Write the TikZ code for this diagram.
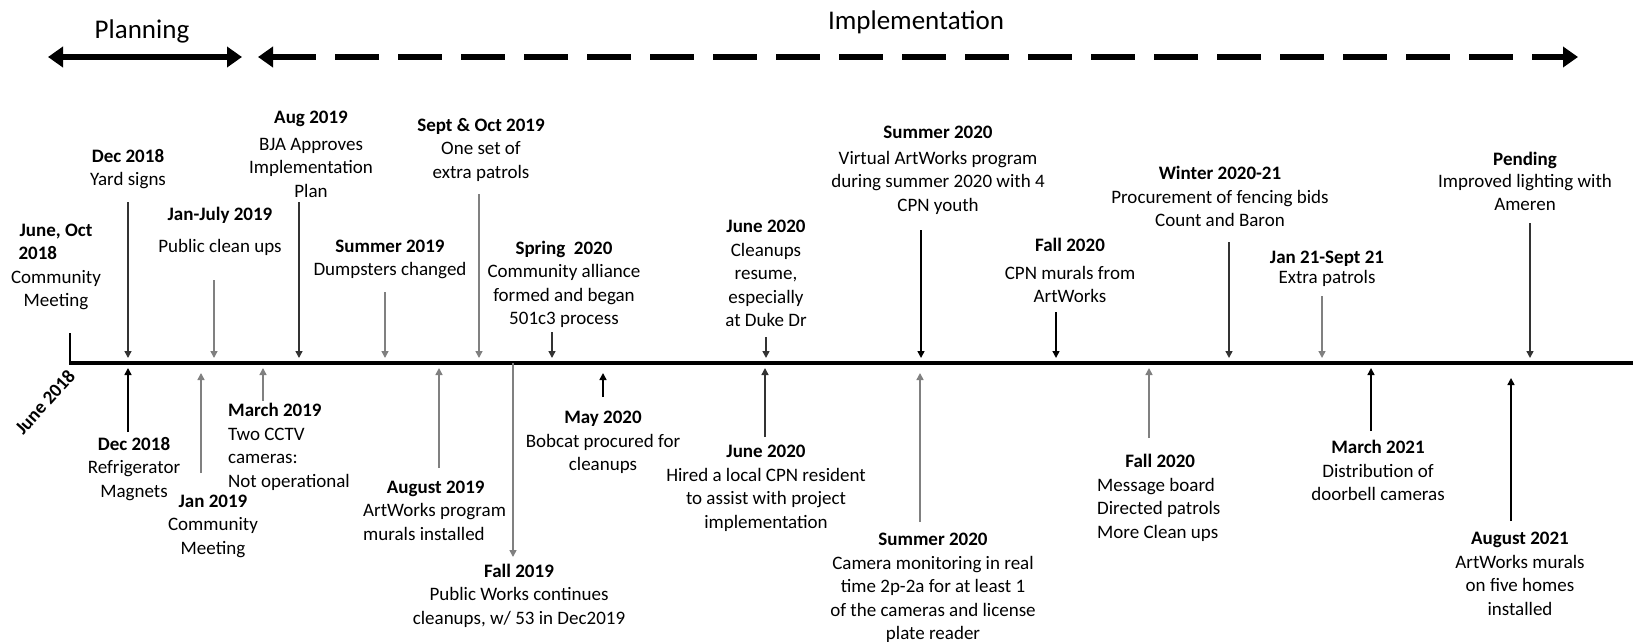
\documentclass[tikz,border=0pt]{standalone}
\usepackage{fontspec}
\setmainfont{Carlito}
\usetikzlibrary{arrows.meta}
\colorlet{darkarr}{black!80}
\colorlet{lightarr}{black!50}

\begin{document}
\begin{tikzpicture}[x=1pt, y=-1pt,
    ev/.style = {align=center, inner sep=0pt, font=\fontsize{19}{23.5}\selectfont},
    evl/.style = {ev, align=left, anchor=west},
    arr/.style = {-{Triangle[length=7pt,width=7pt]}, line width=1.5pt},
    phase/.style = {line width=6pt, {Triangle[length=15pt,width=20pt]}-{Triangle[length=15pt,width=20pt]}}]
    \useasboundingbox (0,0) rectangle (1633,642);

    % Fasi del progetto
    \node[font=\fontsize{27}{32}\selectfont] (plan) at (142,31) {Planning};
    \node[font=\fontsize{27}{32}\selectfont] (impl) at (916,22) {Implementation};
    \coordinate (p0) at (48,57);
    \coordinate (p1) at (242,57);
    \coordinate (i0) at (258,57);
    \coordinate (i1) at (1578,57);
    \draw[phase] (p0) -- (p1);
    \draw[phase, dash pattern=on 44pt off 19pt] (i0) -- (i1);

    % Linea del tempo
    \coordinate (t0) at (70,363);
    \coordinate (tend) at (1633,363);
    \coordinate (k) at (70,333);
    \coordinate (up) at (0,358);
    \coordinate (lo) at (0,368);
    \coordinate (lo2) at (0,373);
    \coordinate (lo3) at (0,378);
    \draw[line width=3.5pt] (t0) -- (tend);
    \draw[line width=1.5pt] (k) -- ([yshift=-2pt]t0);
    \node[ev, rotate=48] (start) at (45,402) {\textbf{June 2018}};

    % Eventi sopra la linea
    \node[ev] (t1) at (56,267) {\makebox[75pt][c]{\textbf{June, Oct}}\\ \makebox[75pt][l]{\textbf{2018}}\\ Community\\ Meeting};
    \node[ev] (t2) at (128,169) {\textbf{Dec 2018}\\ Yard signs};
    \node[ev] (t3) at (220,231.5) {\textbf{Jan-July 2019}\\[9pt] Public clean ups};
    \node[ev] (t4) at (311,154.5) {\textbf{Aug 2019}\\[3pt] BJA Approves\\ Implementation\\ Plan};
    \node[ev] (t5) at (390,259.5) {\textbf{Summer 2019}\\ Dumpsters changed};
    \node[ev] (t6) at (481,149.5) {\textbf{Sept \& Oct 2019}\\ One set of\\ extra patrols};
    \node[ev] (t7) at (564,284.5) {\textbf{Spring\ \ 2020}\\ Community alliance\\ formed and began\\ 501c3 process};
    \node[ev] (t8) at (766,273.5) {\textbf{June 2020}\\ Cleanups\\ resume,\\ especially\\ at Duke Dr};
    \node[ev] (t9) at (938,170.5) {\textbf{Summer 2020}\\[2pt] Virtual ArtWorks program\\ during summer 2020 with 4\\ CPN youth};
    \node[ev] (t10) at (1070,270.5) {\textbf{Fall 2020}\\[4pt] CPN murals from\\ ArtWorks};
    \node[ev] (t11) at (1220,196.5) {\textbf{Winter 2020-21}\\ Procurement of fencing bids\\ Count and Baron};
    \node[ev] (t12) at (1327,269) {\textbf{Jan 21-Sept 21}\\[-3.5pt] Extra patrols};
    \node[ev] (t13) at (1525,181.5) {\textbf{Pending}\\[-2pt] Improved lighting with\\ Ameren};

    % Eventi sotto la linea
    \node[ev] (b1) at (134,469) {\textbf{Dec 2018}\\ Refrigerator\\ Magnets};
    \node[ev] (b2) at (213,526) {\textbf{Jan 2019}\\ Community\\ Meeting};
    \node[evl] (b3) at (228,447) {\textbf{March 2019}\\ Two CCTV\\ cameras:\\ Not operational};
    \node[evl] (b4) at (363,510.5) {\makebox[145pt]{\textbf{August 2019}}\\ ArtWorks program\\ murals installed};
    \node[ev] (b5) at (519,595.5) {\textbf{Fall 2019}\\ Public Works continues\\ cleanups, w/ 53 in Dec2019};
    \node[ev] (b6) at (603,442.5) {\textbf{May 2020}\\ Bobcat procured for\\ cleanups};
    \node[ev] (b7) at (766,488.5) {\textbf{June 2020}\\ Hired a local CPN resident\\ to assist with project\\ implementation};
    \node[ev] (b8) at (933,588) {\textbf{Summer 2020}\\ Camera monitoring in real\\ time 2p-2a for at least 1\\ of the cameras and license\\ plate reader};
    \node[evl] (b9) at (1097,498) {\makebox[126pt]{\textbf{Fall 2020}}\\ Message board\\ Directed patrols\\ More Clean ups};
    \node[ev] (b10) at (1378,470.5) {\textbf{March 2021}\\ Distribution of\\ doorbell cameras};
    \node[ev] (b11) at (1520,574) {\textbf{August 2021}\\ ArtWorks murals\\ on five homes\\ installed};

    % Frecce in alto
    \coordinate (ta2) at (128,202);
    \coordinate (ta3) at (214,280);
    \coordinate (ta4) at (299,202);
    \coordinate (ta5) at (385,292);
    \coordinate (ta6) at (479,194);
    \coordinate (ta7) at (552,332);
    \coordinate (ta8) at (766,337);
    \coordinate (ta9) at (921,230);
    \coordinate (ta10) at (1056,312);
    \coordinate (ta11) at (1229,242);
    \coordinate (ta12) at (1322,296);
    \coordinate (ta13) at (1530,223);
    \draw[arr, darkarr] (ta2) -- (ta2 |- up);
    \draw[arr, lightarr] (ta3) -- (ta3 |- up);
    \draw[arr, darkarr] (ta4) -- (ta4 |- up);
    \draw[arr, lightarr] (ta5) -- (ta5 |- up);
    \draw[arr, lightarr] (ta6) -- (ta6 |- up);
    \draw[arr, darkarr] (ta7) -- (ta7 |- up);
    \draw[arr, darkarr] (ta8) -- (ta8 |- up);
    \draw[arr, black] (ta9) -- (ta9 |- up);
    \draw[arr, black] (ta10) -- (ta10 |- up);
    \draw[arr, darkarr] (ta11) -- (ta11 |- up);
    \draw[arr, lightarr] (ta12) -- (ta12 |- up);
    \draw[arr, darkarr] (ta13) -- (ta13 |- up);

    % Frecce in basso
    \coordinate (ba1) at (128,432);
    \coordinate (ba2) at (201,473);
    \coordinate (ba3) at (263,401);
    \coordinate (ba4) at (439,468);
    \coordinate (ba5) at (513,557);
    \coordinate (ba6) at (603,397);
    \coordinate (ba7) at (765,437);
    \coordinate (ba8) at (920,522);
    \coordinate (ba9) at (1149,438);
    \coordinate (ba10) at (1371,431);
    \coordinate (ba11) at (1511,521);
    \draw[arr, black] (ba1) -- (ba1 |- lo);
    \draw[arr, lightarr] (ba2) -- (ba2 |- lo2);
    \draw[arr, lightarr] (ba3) -- (ba3 |- lo);
    \draw[arr, lightarr] (ba4) -- (ba4 |- lo);
    \draw[arr, lightarr] (ba5 |- t0) -- (ba5);
    \draw[arr, black] (ba6) -- (ba6 |- lo2);
    \draw[arr, darkarr] (ba7) -- (ba7 |- lo);
    \draw[arr, lightarr] (ba8) -- (ba8 |- lo2);
    \draw[arr, lightarr] (ba9) -- (ba9 |- lo);
    \draw[arr, black] (ba10) -- (ba10 |- lo);
    \draw[arr, black] (ba11) -- (ba11 |- lo3);

\end{tikzpicture}
\end{document}
